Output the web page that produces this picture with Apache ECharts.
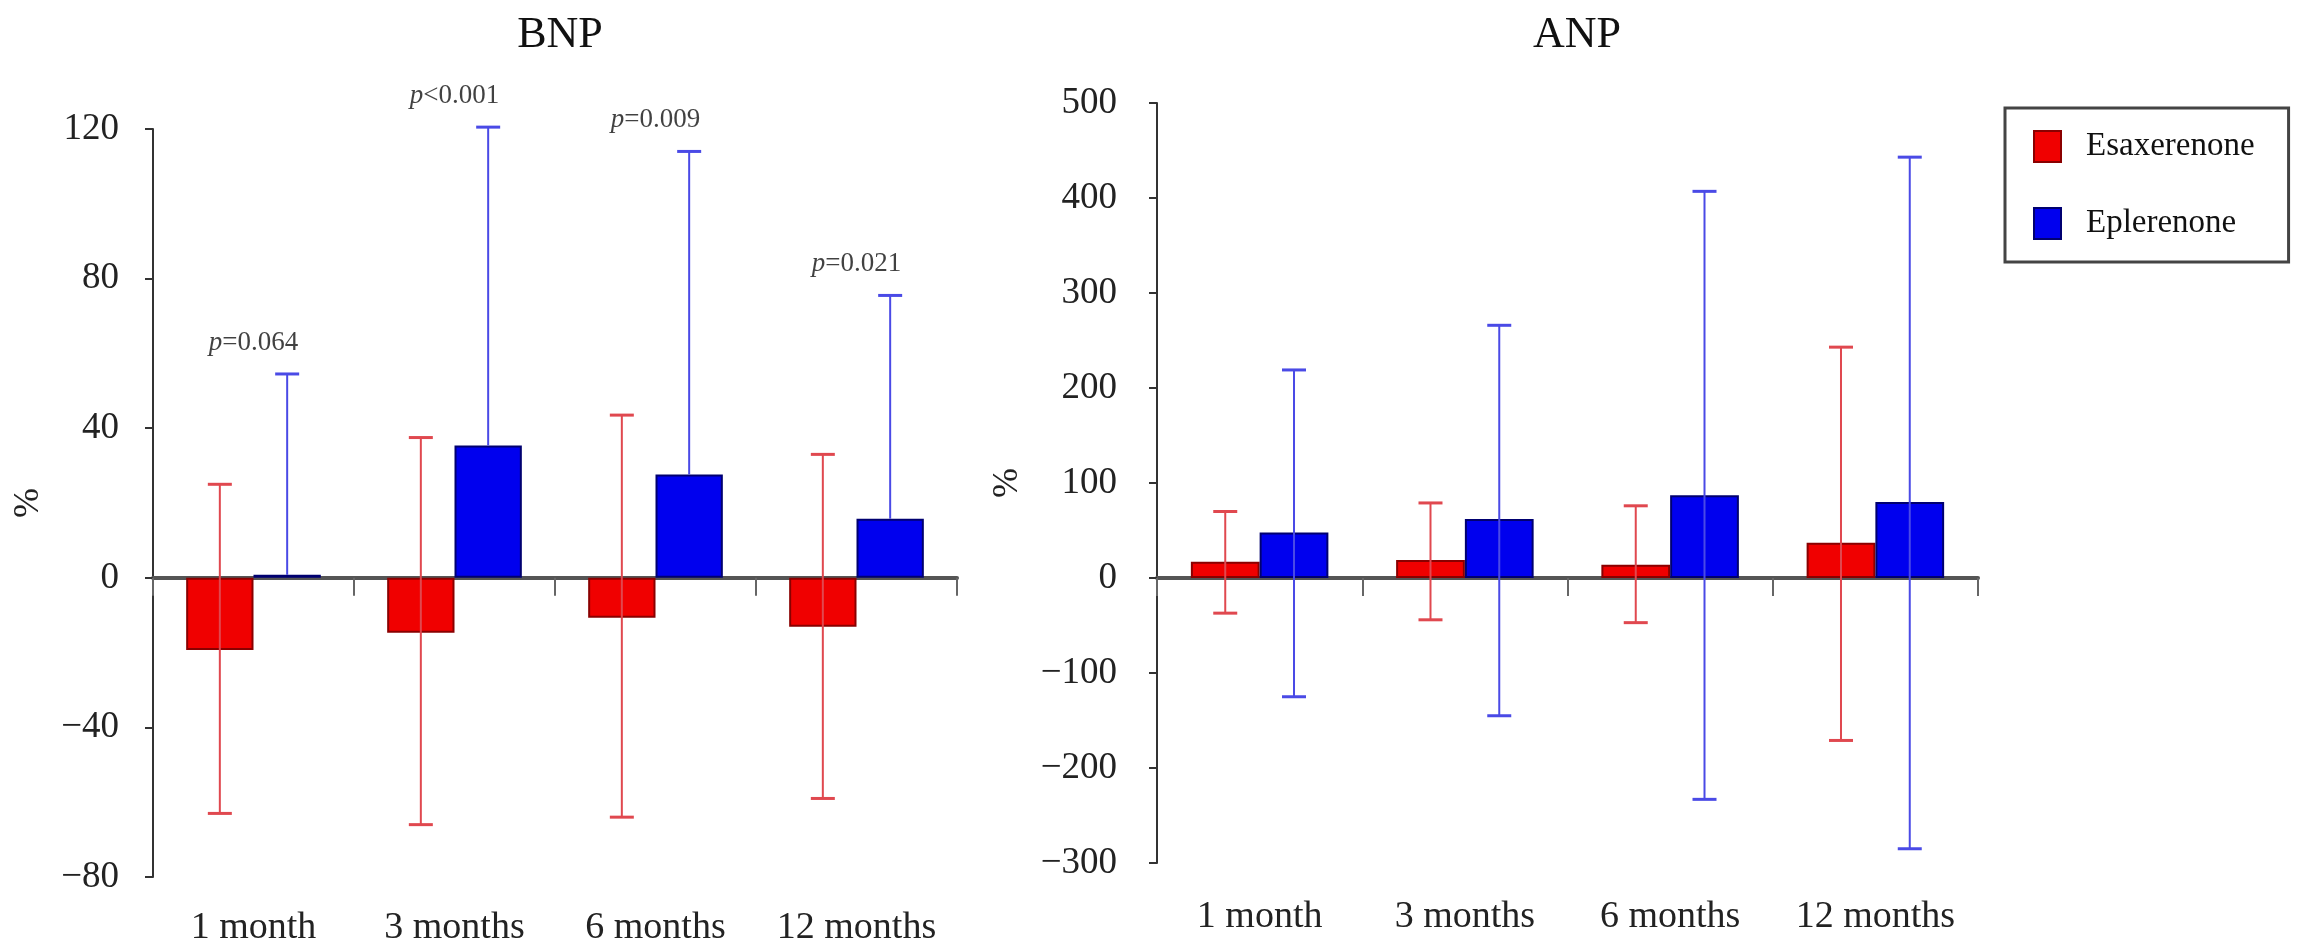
<!DOCTYPE html>
<html><head><meta charset="utf-8">
<script src="https://cdn.jsdelivr.net/npm/echarts@6/dist/echarts.min.js"></script>
<style>html,body{margin:0;padding:0;background:#fff}#c{width:2300px;height:948px}</style>
</head><body><div id="c"></div>
<script>
// ---- data ----
const categories = ['1 month', '3 months', '6 months', '12 months'];
const seriesNames = ['Esaxerenone', 'Eplerenone'];
// BNP (% change)
const bnpEsaMean = [-19.3, -14.7, -10.7, -13.1];
const bnpEsaLow  = [-63, -66, -64, -59];
const bnpEsaHigh = [25, 37.5, 43.5, 33];
const bnpEpMean  = [0.8, 35.4, 27.6, 15.8];
const bnpEpHigh  = [54.5, 120.5, 114, 75.5];
const bnpPText   = ['=0.064', '<0.001', '=0.009', '=0.021'];
// ANP (% change)
const anpEsaMean = [17, 19, 14, 37];
const anpEsaLow  = [-37, -44, -47, -171];
const anpEsaHigh = [70, 79, 76, 243];
const anpEpMean  = [48, 62, 87, 80];
const anpEpLow   = [-125, -145, -233, -285];
const anpEpHigh  = [219, 266, 407, 443];
// axis ticks
const bnpTicks = {min: -80, max: 120, interval: 40};
const anpTicks = {min: -300, max: 500, interval: 100};

// ---- styles ----
const FONT = 'Liberation Serif';
const RED = '#f00000', RED_EDGE = '#8a0000', RED_WHISK = '#e0484f';
const BLUE = '#0000ee', BLUE_EDGE = '#000070', BLUE_WHISK = '#4a4ae6';
const CAT_GAP = 0.33;

function errData(mean, low, high) {
  return categories.map((c, i) => [i, low == null ? mean[i] : low[i], high[i], mean[i]]);
}
function errRender(sign, color) {
  return function (params, api) {
    const i = api.value(0), lo = api.value(1), hi = api.value(2), mean = api.value(3);
    const band = api.size([1, 0])[0];
    const barW = band * (1 - CAT_GAP) / 2;
    const cx = api.coord([i, 0])[0] + sign * barW / 2;
    const yLo = api.coord([i, lo])[1], yHi = api.coord([i, hi])[1];
    const cap = 12;
    const st = {stroke: color, lineWidth: 2};
    const kids = [
      {type: 'line', shape: {x1: cx, y1: yLo, x2: cx, y2: yHi}, style: st},
      {type: 'line', shape: {x1: cx - cap, y1: yHi, x2: cx + cap, y2: yHi}, style: {stroke: color, lineWidth: 3}}
    ];
    if (lo !== mean) kids.push({type: 'line', shape: {x1: cx - cap, y1: yLo, x2: cx + cap, y2: yLo}, style: {stroke: color, lineWidth: 3}});
    return {type: 'group', children: kids};
  };
}
const minusFmt = v => String(v).replace('-', '\u2212');

function yAxis(gi, t, margin, nameGap) {
  return {
    type: 'value', gridIndex: gi, min: t.min, max: t.max, interval: t.interval,
    name: '%', nameLocation: 'middle', nameGap: nameGap, nameRotate: 90,
    nameTextStyle: {fontFamily: FONT, fontSize: 36, color: '#222'},
    axisLine: {show: true, lineStyle: {color: '#333', width: 2}},
    axisTick: {show: true, length: 8, lineStyle: {color: '#333', width: 2}},
    axisLabel: {fontFamily: FONT, fontSize: 37, color: '#222', margin: margin, formatter: minusFmt},
    splitLine: {show: false}
  };
}
function xZero(gi) {
  return {
    type: 'category', gridIndex: gi, data: categories, position: 'bottom',
    axisLine: {show: true, onZero: true, lineStyle: {color: '#555', width: 4}},
    axisTick: {show: true, length: 18, interval: 0, lineStyle: {color: '#666', width: 2}},
    axisLabel: {show: false}, splitLine: {show: false}
  };
}
function xLabels(gi, margin) {
  return {
    type: 'category', gridIndex: gi, data: categories, position: 'bottom',
    axisLine: {show: false, onZero: false}, axisTick: {show: false},
    axisLabel: {fontFamily: FONT, fontSize: 38, color: '#222', margin: margin, interval: 0},
    splitLine: {show: false}
  };
}
function bar(name, xi, yi, data, color, edge) {
  return {
    type: 'bar', name: name, xAxisIndex: xi, yAxisIndex: yi, data: data,
    barGap: '0%', barCategoryGap: (CAT_GAP * 100) + '%',
    itemStyle: {color: color, borderColor: edge, borderWidth: 2}, z: 2
  };
}
function err(xi, yi, data, sign, color) {
  return {type: 'custom', xAxisIndex: xi, yAxisIndex: yi, data: data, clip: false,
    renderItem: errRender(sign, color), z: 3, silent: true,
    encode: {x: 0, y: [1, 2]}};
}

const option = {
  backgroundColor: '#fff',
  animation: false,
  title: [
    {text: 'BNP', left: 555, top: 8, textAlign: 'center',
     textStyle: {fontFamily: FONT, fontSize: 44, fontWeight: 'normal', color: '#111'}},
    {text: 'ANP', left: 1572, top: 8, textAlign: 'center',
     textStyle: {fontFamily: FONT, fontSize: 44, fontWeight: 'normal', color: '#111'}}
  ],
  legend: {
    data: seriesNames, orient: 'vertical', left: 2005, top: 108,
    padding: [22, 34, 22, 28], itemWidth: 27, itemHeight: 31, itemGap: 44,
    borderColor: '#444', borderWidth: 3, icon: 'rect',
    textStyle: {fontFamily: FONT, fontSize: 33, color: '#111', padding: [0, 0, 0, 20]}
  },
  grid: [
    {left: 153, top: 129, width: 804, height: 748},
    {left: 1157, top: 103, width: 821, height: 760}
  ],
  xAxis: [xZero(0), xLabels(0, 32), xZero(1), xLabels(1, 35)],
  yAxis: [yAxis(0, bnpTicks, 34, 106), yAxis(1, anpTicks, 40, 131)],
  series: [
    bar('Esaxerenone', 0, 0, bnpEsaMean, RED, RED_EDGE),
    bar('Eplerenone', 0, 0, bnpEpMean, BLUE, BLUE_EDGE),
    err(0, 0, errData(bnpEsaMean, bnpEsaLow, bnpEsaHigh), -1, RED_WHISK),
    err(0, 0, errData(bnpEpMean, null, bnpEpHigh), 1, BLUE_WHISK),
    {
      type: 'scatter', xAxisIndex: 0, yAxisIndex: 0, symbolSize: 0, silent: true, clip: false,
      data: categories.map((c, i) => [i, bnpEpHigh[i]]),
      labelLayout: {hideOverlap: false},
      label: {
        show: true, position: 'top', distance: 18,
        formatter: p => '{i|p}{n|' + bnpPText[p.dataIndex] + '}',
        rich: {
          i: {fontFamily: FONT, fontSize: 27, fontStyle: 'italic', color: '#111'},
          n: {fontFamily: FONT, fontSize: 27, color: '#111'}
        }
      }
    },
    bar('Esaxerenone', 2, 1, anpEsaMean, RED, RED_EDGE),
    bar('Eplerenone', 2, 1, anpEpMean, BLUE, BLUE_EDGE),
    err(2, 1, errData(anpEsaMean, anpEsaLow, anpEsaHigh), -1, RED_WHISK),
    err(2, 1, errData(anpEpMean, anpEpLow, anpEpHigh), 1, BLUE_WHISK)
  ]
};
const chart = echarts.init(document.getElementById('c'), null, {renderer: 'canvas'});
chart.setOption(option);
</script></body></html>
